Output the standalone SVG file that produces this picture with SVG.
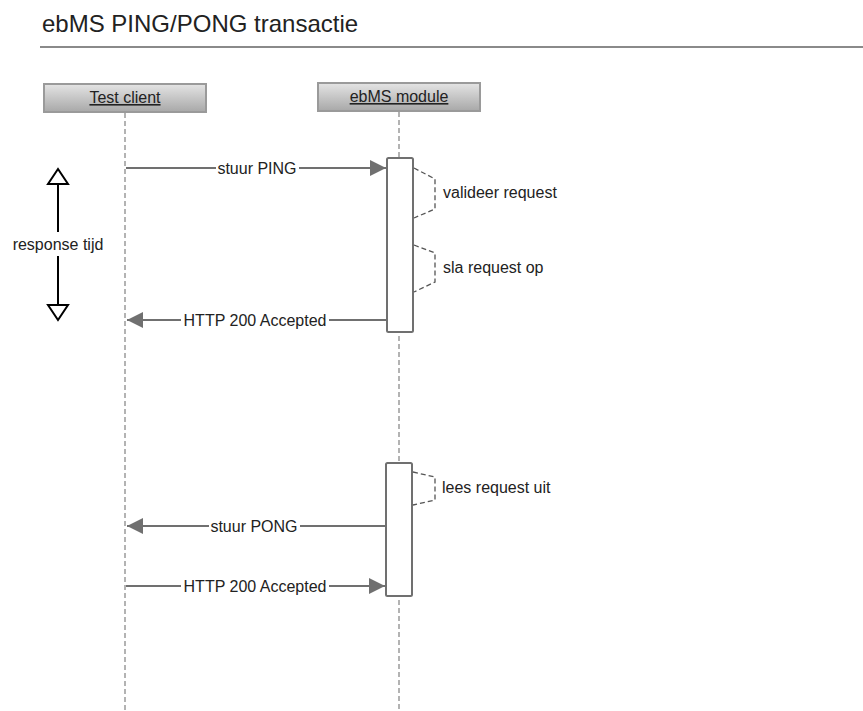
<svg xmlns="http://www.w3.org/2000/svg" width="863" height="711" viewBox="0 0 863 711">
<defs>
<linearGradient id="hdr" x1="0" y1="0" x2="0" y2="1">
<stop offset="0" stop-color="#e4e4e4"/>
<stop offset="1" stop-color="#a8a8a8"/>
</linearGradient>
<marker id="arr" viewBox="0 0 16 16" refX="16" refY="8" markerWidth="16" markerHeight="16" markerUnits="userSpaceOnUse" orient="auto">
<path d="M0,0 L16,8 L0,16 Z" fill="#707070"/>
</marker>
<style>
text{font-family:"Liberation Sans",Arial,sans-serif;fill:#222}
.title{font-size:24px}
.lbl{font-size:16px}
.hdrtxt{font-size:16px;text-decoration:underline}
.hdrbox{fill:url(#hdr);stroke:#9a9a9a;stroke-width:2}
.life{stroke:#9a9a9a;stroke-width:1.5;stroke-dasharray:5 3;fill:none}
.act{fill:#fff;stroke:#707070;stroke-width:2}
.msg{stroke:#707070;stroke-width:2;fill:none}
.self{stroke:#555;stroke-width:1.3;stroke-dasharray:5 3;fill:none}
.bg{fill:#fff}
.tri{fill:#fff;stroke:#000;stroke-width:2}
</style>
</defs>
<rect width="863" height="711" fill="#fff"/>
<g id="title">
<text class="title" x="42" y="32">ebMS PING/PONG transactie</text>
<line x1="40" y1="47" x2="863" y2="47" stroke="#8a8a8a" stroke-width="2"/>
</g>
<g id="lifelines">
<line class="life" x1="125" y1="113" x2="125" y2="711"/>
<line class="life" x1="399" y1="112" x2="399" y2="711"/>
</g>
<g id="test-client">
<rect class="hdrbox" x="44" y="84" width="162" height="28"/>
<text class="hdrtxt" x="125" y="103" text-anchor="middle">Test client</text>
</g>
<g id="ebms-module">
<rect class="hdrbox" x="318" y="83" width="162" height="28"/>
<text class="hdrtxt" x="399" y="102" text-anchor="middle">ebMS module</text>
</g>
<g id="activation-1">
<rect class="act" x="387" y="158" width="26" height="174" rx="1.5"/>
</g>
<g id="activation-2">
<rect class="act" x="386" y="463" width="26" height="133" rx="1.5"/>
</g>
<g id="response-tijd">
<line x1="58" y1="184" x2="58" y2="232" stroke="#000" stroke-width="2"/>
<polygon class="tri" points="58,169 48,184 68,184"/>
<line x1="58" y1="256" x2="58" y2="305" stroke="#000" stroke-width="2"/>
<polygon class="tri" points="48,305 68,305 58,320"/>
<text class="lbl" x="58" y="250" text-anchor="middle">response tijd</text>
</g>
<g id="connectors">
<line class="msg" x1="126" y1="168" x2="386" y2="168" marker-end="url(#arr)"/>
<rect class="bg" x="216" y="159" width="83" height="18"/>
<text class="lbl" x="257" y="173.5" text-anchor="middle">stuur PING</text>

<path class="self" d="M414,168 L435,179 L435,209 L414,218"/>
<text class="lbl" x="443" y="198">valideer request</text>

<path class="self" d="M414,245 L435,253 L435,282 L414,292"/>
<text class="lbl" x="443" y="273">sla request op</text>

<line class="msg" x1="386" y1="320" x2="127" y2="320" marker-end="url(#arr)"/>
<rect class="bg" x="181" y="311" width="148" height="18"/>
<text class="lbl" x="255" y="325.5" text-anchor="middle">HTTP 200 Accepted</text>

<path class="self" d="M413,472 L435,477 L435,500 L413,505"/>
<text class="lbl" x="442" y="493">lees request uit</text>

<line class="msg" x1="385" y1="526" x2="127" y2="526" marker-end="url(#arr)"/>
<rect class="bg" x="209" y="517" width="91" height="18"/>
<text class="lbl" x="254" y="531.5" text-anchor="middle">stuur PONG</text>

<line class="msg" x1="126" y1="586" x2="385" y2="586" marker-end="url(#arr)"/>
<rect class="bg" x="181" y="577" width="148" height="18"/>
<text class="lbl" x="255" y="591.5" text-anchor="middle">HTTP 200 Accepted</text>
</g>
</svg>
